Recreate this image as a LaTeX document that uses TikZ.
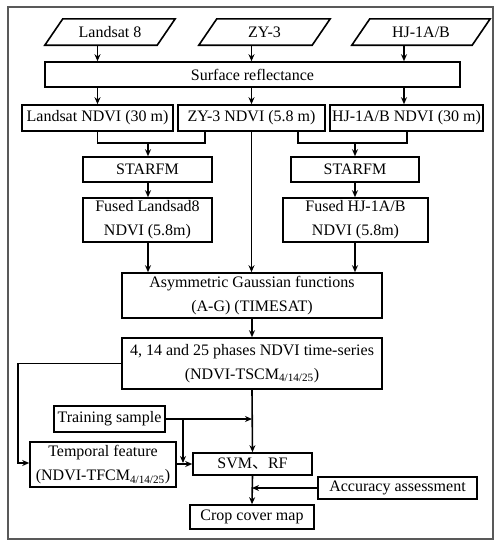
\documentclass[tikz,border=0pt]{standalone}
\usepackage{fontspec}
\setmainfont{Liberation Serif}
\newfontfamily\cjk{Noto Sans CJK SC}
\usetikzlibrary{arrows.meta}
\begin{document}
\begin{tikzpicture}[x=1pt,y=-1pt,
  box/.style={draw,line width=1.6pt,inner sep=0pt,align=center,font=\fontsize{16}{24}\selectfont},
  ghost/.style={inner sep=0pt,align=center,font=\fontsize{16}{24}\selectfont},
  conn/.style={line width=1.6pt},
  arr/.style={line width=1.6pt,-{Stealth[length=7pt,width=6pt]}}]
\useasboundingbox (0,0) rectangle (499,550);
\draw[line width=1.3pt,black!65] (8,7) rectangle (493,539);
% parallelograms
\node[ghost,minimum width=130,minimum height=26] (l8) at (110,32) {Landsat 8};
\node[ghost,minimum width=131,minimum height=26] (zy) at (264.5,32) {ZY-3};
\node[ghost,minimum width=138,minimum height=26] (hj) at (421,32) {HJ-1A/B};
\foreach \p in {l8,zy,hj}{
  \draw[conn,line join=miter] (\p.south west) -- ([xshift=-18pt]\p.south east) -- (\p.north east) -- ([xshift=18pt]\p.north west) -- cycle;
}
\node[box,minimum width=415,minimum height=25] (sr) at (252.5,74.5) {Surface reflectance};
\node[box,minimum width=151,minimum height=26] (ln) at (97.5,118) {Landsat NDVI (30 m)};
\node[box,minimum width=147,minimum height=26] (zn) at (251.5,118) {ZY-3 NDVI (5.8 m)};
\node[box,minimum width=153,minimum height=26] (hn) at (406.5,118) {HJ-1A/B NDVI (30 m)};
\node[box,minimum width=129,minimum height=25] (stl) at (147.5,169.5) {STARFM};
\node[box,minimum width=128,minimum height=25] (str) at (355,169.5) {STARFM};
\node[box,minimum width=129,minimum height=44] (fl) at (147.5,220) {Fused Landsad8\\NDVI (5.8m)};
\node[box,minimum width=145,minimum height=44] (fr) at (355.5,220) {Fused HJ-1A/B\\NDVI (5.8m)};
\node[box,minimum width=260,minimum height=45] (ag) at (252,295.5) {Asymmetric Gaussian functions\\(A-G) (TIMESAT)};
\node[box,minimum width=260,minimum height=51] (ts) at (252,363.5) {4, 14 and 25 phases NDVI time-series\\(NDVI-TSCM\textsubscript{4/14/25})};
\node[box,minimum width=111,minimum height=26] (tr) at (109.5,419) {Training sample};
\node[box,minimum width=146,minimum height=45] (tf) at (103,464.5) {Temporal feature\\(NDVI-TFCM\textsubscript{4/14/25})};
\node[box,minimum width=119,minimum height=22] (svm) at (252.5,464) {SVM{\cjk 、}RF};
\node[box,minimum width=159,minimum height=22] (acc) at (397.5,488) {Accuracy assessment};
\node[box,minimum width=124,minimum height=24] (crop) at (252,517) {Crop cover map};
% top arrows
\draw[arr] (l8.south -| ln) -- (ln |- sr.north);
\draw[arr] (zy.south -| zn) -- (zn |- sr.north);
\draw[arr] (hj.south -| 404,0) -- (404,0 |- sr.north);
\draw[arr] (sr.south -| ln) -- (ln.north);
\draw[arr] (sr.south -| zn) -- (zn.north);
\draw[arr] (sr.south -| 404,0) -- (404,0 |- hn.north);
% joins to STARFM
\coordinate (jl) at (148,143);
\coordinate (jr) at (355,143);
\draw[conn] (ln.south) |- (jl) -| (205,0 |- zn.south);
\draw[arr] (jl) -- (stl.north -| jl);
\draw[conn] (298,0 |- zn.south) |- (jr) -| (407,0 |- hn.south);
\draw[arr] (jr) -- (str.north -| jr);
\draw[arr] (stl.south -| jl) -- (fl.north -| jl);
\draw[arr] (str.south -| jr) -- (fr.north -| jr);
\draw[arr] (fl.south -| jl) -- (ag.north -| jl);
\draw[arr] (fr.south -| jr) -- (ag.north -| jr);
\draw[arr] (zn.south) -- (zn.south |- ag.north);
\draw[arr] (ag.south) -- (ts.north);
% lower part
\coordinate (lp) at (18,463);
\draw[arr] (ts.west) -| (lp) -- (tf.west |- lp);
\coordinate (trj) at (252,419);
\draw[arr] (tr.east) -- (trj);
\coordinate (br) at (183,419);
\draw[arr] (br) -- (183,463);
\draw[arr] (tf.east |- svm.west) -- (svm.west);
\draw[arr] (ts.south) -- (svm.north);
\draw[arr] (svm.south) -- (crop.north);
\draw[arr] (acc.west) -- (acc.west -| crop.north);
\end{tikzpicture}
\end{document}
